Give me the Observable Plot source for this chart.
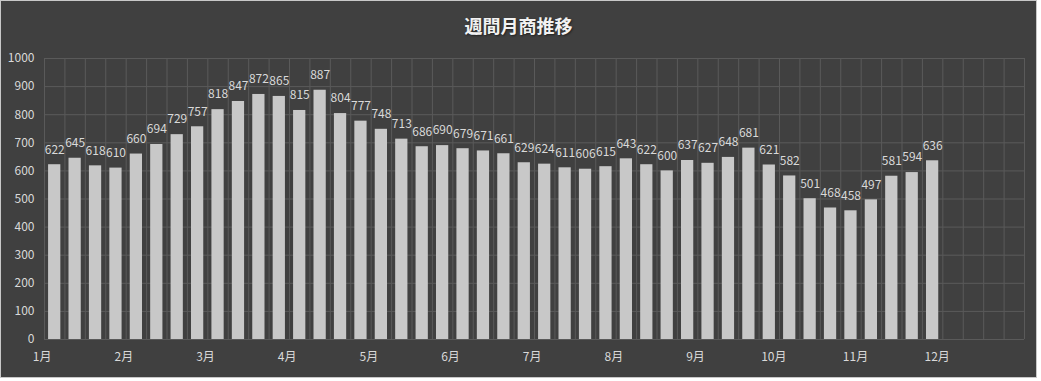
<!DOCTYPE html>
<html>
<head>
<meta charset="utf-8">
<script src="https://cdn.jsdelivr.net/npm/d3@7"></script>
<script src="https://cdn.jsdelivr.net/npm/@observablehq/plot@0.6"></script>
<style>
  html, body { margin: 0; padding: 0; background: #ffffff; }
  #chart {
    position: relative; width: 1035px; height: 376px; background: #404040;
    border: 1px solid #c8c8c8; overflow: hidden;
    font-family: "Noto Sans CJK JP", "Noto Sans", sans-serif;
  }
  #title {
    height: 45px; line-height: 48px; text-align: center; color: #f2f2f2;
    font-size: 18px; font-weight: bold; text-shadow: 1px 1px 2px rgba(0,0,0,0.5);
  }
  svg { display: block; }
</style>
</head>
<body>
<div id="chart"><div id="title">週間月商推移</div></div>
<script>
const values = [622, 645, 618, 610, 660, 694, 729, 757, 818, 847, 872, 865, 815, 887, 804, 777,
  748, 713, 686, 690, 679, 671, 661, 629, 624, 611, 606, 615, 643, 622, 600, 637,
  627, 648, 681, 621, 582, 501, 468, 458, 497, 581, 594, 636];
const monthLabels = ["1月","2月","3月","4月","5月","6月","7月","8月","9月","10月","11月","12月"];
const monthWeeks = [0, 4, 8, 12, 16, 20, 24, 28, 32, 36, 40, 44];
const weekSlots = 48;
const yTicks = [0, 100, 200, 300, 400, 500, 600, 700, 800, 900, 1000];

const data = values.map((v, i) => ({i, v}));
const labelOf = new Map(monthWeeks.map((w, k) => [w, monthLabels[k]]));

const plot = Plot.plot({
  width: 1035,
  height: 331,
  marginLeft: 43,
  marginRight: 12,
  marginTop: 12,
  marginBottom: 38,
  style: {background: "transparent", color: "#d9d9d9", fontFamily: "'Noto Sans CJK JP', 'Noto Sans', sans-serif", fontSize: "12px"},
  x: {domain: [0, weekSlots], label: null},
  y: {domain: [0, 1000], label: null},
  marks: [
    Plot.ruleY(yTicks, {stroke: "#5a5a5a", strokeWidth: 1}),
    Plot.ruleX(d3.range(0, weekSlots + 1), {stroke: "#5a5a5a", strokeWidth: 1}),
    Plot.axisY({ticks: yTicks, tickFormat: d => String(d), tickSize: 0, tickPadding: 10, label: null, fill: "#d9d9d9", fontSize: 12}),
    Plot.axisX({ticks: monthWeeks, tickFormat: d => labelOf.get(d), tickSize: 0, tickPadding: 13, textAnchor: "end", dx: 7, label: null, fill: "#d9d9d9", fontSize: 12}),
    Plot.rectY(data, {x1: d => d.i + 0.2, x2: d => d.i + 0.8, y: "v", fill: "#c8c8c8"}),
    Plot.text(data, {x: d => d.i + 0.5, y: "v", text: d => String(d.v), dy: -15, fill: "#d9d9d9", fontSize: 12})
  ]
});
document.getElementById("chart").appendChild(plot);
</script>
</body>
</html>
